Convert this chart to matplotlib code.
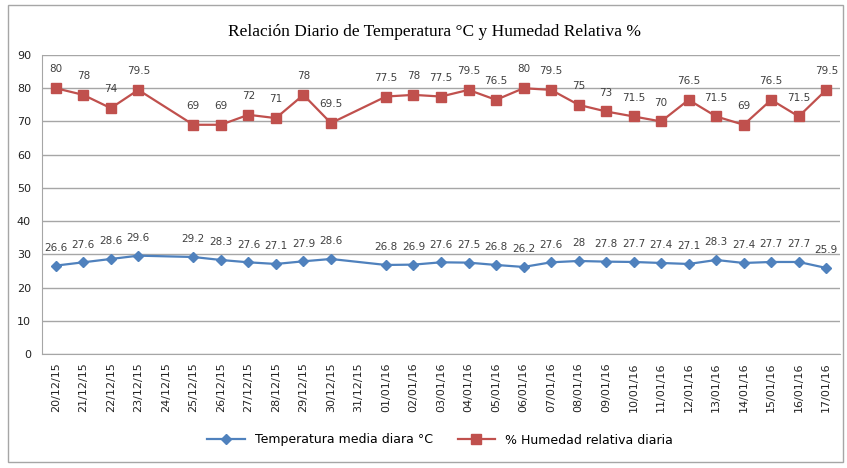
import numpy as np
import matplotlib.pyplot as plt
from matplotlib.patches import Rectangle

# datos diarios (nan = sin registro)
fechas = ['20/12/15', '21/12/15', '22/12/15', '23/12/15', '24/12/15', '25/12/15',
          '26/12/15', '27/12/15', '28/12/15', '29/12/15', '30/12/15', '31/12/15',
          '01/01/16', '02/01/16', '03/01/16', '04/01/16', '05/01/16', '06/01/16',
          '07/01/16', '08/01/16', '09/01/16', '10/01/16', '11/01/16', '12/01/16',
          '13/01/16', '14/01/16', '15/01/16', '16/01/16', '17/01/16']
temperatura = [26.6, 27.6, 28.6, 29.6, np.nan, 29.2, 28.3, 27.6, 27.1, 27.9, 28.6, np.nan,
               26.8, 26.9, 27.6, 27.5, 26.8, 26.2, 27.6, 28, 27.8, 27.7, 27.4, 27.1,
               28.3, 27.4, 27.7, 27.7, 25.9]
humedad = [80, 78, 74, 79.5, np.nan, 69, 69, 72, 71, 78, 69.5, np.nan,
           77.5, 78, 77.5, 79.5, 76.5, 80, 79.5, 75, 73, 71.5, 70, 76.5,
           71.5, 69, 76.5, 71.5, 79.5]

azul = '#4F81BD'
rojo = '#C0504D'

fig = plt.figure(figsize=(8.47, 4.68), dpi=100)
fig.patches.append(Rectangle((8 / 847, 1 - 462 / 468), 835 / 847, 457 / 468,
                             transform=fig.transFigure, fill=False,
                             edgecolor='#A6A6A6', linewidth=1))
ax = fig.add_axes([42 / 847, 1 - 354 / 468, 798 / 847, 299 / 468])

x = np.arange(len(fechas))
t = np.array(temperatura)
h = np.array(humedad)
mt = ~np.isnan(t)
mh = ~np.isnan(h)

ax.plot(x[mt], t[mt], color=azul, lw=1.6, marker='D', ms=5.5,
        label='Temperatura media diara °C')
ax.plot(x[mh], h[mh], color=rojo, lw=1.6, marker='s', ms=7,
        label='% Humedad relativa diaria')

for xi, v in zip(x[mt], t[mt]):
    ax.annotate(f'{v:g}', (xi, v), xytext=(0, 9), textcoords='offset points',
                ha='center', va='bottom', fontsize=7.5, color='#404040')
for xi, v in zip(x[mh], h[mh]):
    ax.annotate(f'{v:g}', (xi, v), xytext=(0, 10), textcoords='offset points',
                ha='center', va='bottom', fontsize=7.5, color='#404040')

ax.set_xlim(-0.5, len(fechas) - 0.5)
ax.set_ylim(0, 90)
ax.set_yticks(range(0, 91, 10))
ax.set_xticks(x)
ax.set_xticklabels(fechas, rotation=90, fontsize=8, color='#222222')
ax.tick_params(axis='y', labelsize=8, colors='#222222', length=0, pad=8)
ax.tick_params(axis='x', length=0, pad=6)
ax.grid(axis='y', color='#A6A6A6', lw=1)
ax.set_axisbelow(True)
for s in ['top', 'right']:
    ax.spines[s].set_visible(False)
ax.spines['left'].set_color('#A6A6A6')
ax.spines['bottom'].set_color('#A6A6A6')

fig.text(434 / 847, 1 - 32 / 468, 'Relación Diario de Temperatura °C y Humedad Relativa %',
         ha='center', va='center', fontsize=12.5, family='Liberation Serif')

fig.legend(loc='center', bbox_to_anchor=(440 / 847, 1 - 440 / 468), ncol=2,
           frameon=False, fontsize=9, handlelength=3, columnspacing=2)

fig.savefig('out.png', dpi=100)
